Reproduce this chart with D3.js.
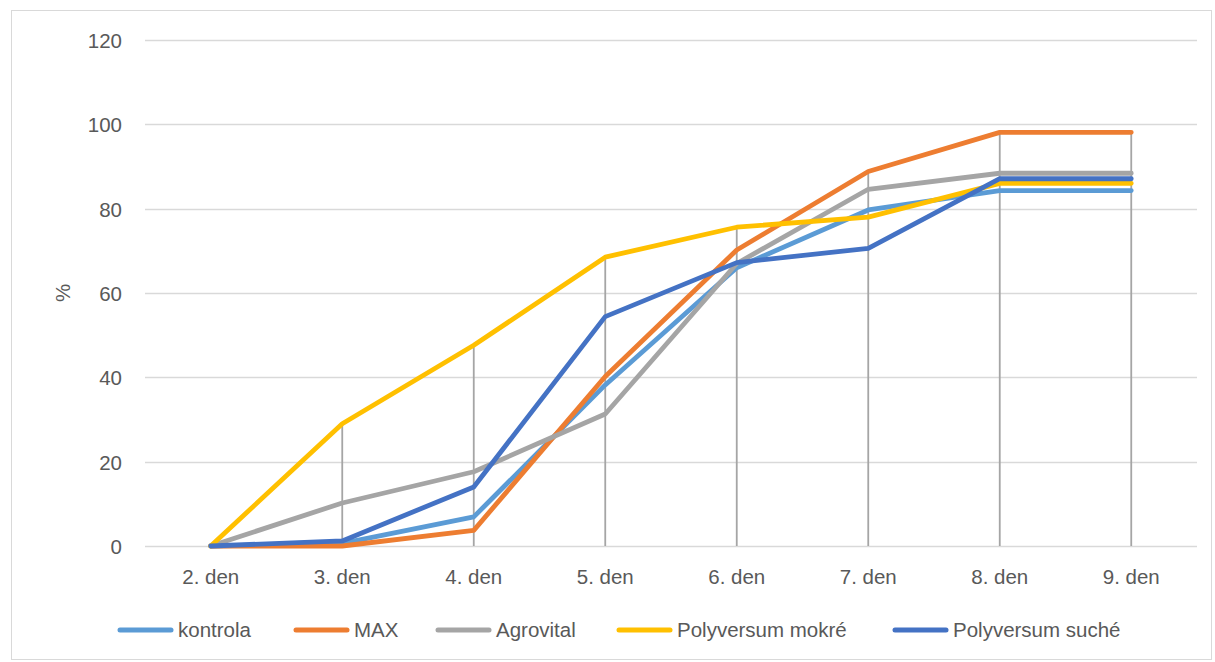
<!DOCTYPE html>
<html><head><meta charset="utf-8">
<script src="https://cdn.jsdelivr.net/npm/d3@7"></script>
<style>body{margin:0;background:#fff}svg{display:block}text{font-family:"Liberation Sans",Arial,sans-serif;fill:#595959}</style>
</head><body><svg id="c" width="1215" height="662"></svg>
<script>
const categories = ["2. den","3. den","4. den","5. den","6. den","7. den","8. den","9. den"];
const seriesNames = ["kontrola","MAX","Agrovital","Polyversum mokré","Polyversum suché"];
const seriesColors = ["#5b9bd5","#ed7d31","#a5a5a5","#ffc000","#4472c4"];
const kontrola = [0,0.6,6.9,38.2,66,79.7,84.3,84.3];
const MAX = [0,0,3.7,40.2,70.2,88.8,98.1,98.1];
const agrovital = [0,10.2,17.6,31.3,67,84.6,88.4,88.4];
const polyMokre = [0,29,47.6,68.5,75.6,78,86,86];
const polySuche = [0,1.2,14,54.4,67.2,70.6,87.1,87.1];
const yTicks = [0,20,40,60,80,100,120];
const seriesValues = [kontrola, MAX, agrovital, polyMokre, polySuche];

const FS = 20.5;
const svg = d3.select("#c");
svg.append("rect").attr("x",11.5).attr("y",10.5).attr("width",1200).attr("height",649)
  .attr("fill","#fff").attr("stroke","#d9d9d9").attr("stroke-width",1);

const x = d3.scaleBand().domain(categories).range([145,1197]);
const y = d3.scaleLinear().domain([0,120]).range([546,40]);
const cx = c => x(c) + x.bandwidth()/2;

// gridlines
svg.append("g").selectAll("line").data(yTicks).join("line")
  .attr("x1",145).attr("x2",1197).attr("y1",d=>Math.round(y(d))+0.5).attr("y2",d=>Math.round(y(d))+0.5)
  .attr("stroke","#d9d9d9").attr("stroke-width",1.3);

// y axis labels
const yAxis = d3.axisLeft(y).tickValues(yTicks).tickSize(0).tickPadding(0);
const gy = svg.append("g").attr("transform","translate(122,0)").call(yAxis);
gy.select(".domain").remove();
gy.selectAll("text").attr("font-size",FS).attr("font-family","Liberation Sans").attr("fill","#595959").attr("dy","0.36em");

// x axis labels
const xAxis = d3.axisBottom(x).tickSize(0).tickPadding(0);
const gx = svg.append("g").attr("transform","translate(0,584)").call(xAxis);
gx.select(".domain").remove();
gx.selectAll("text").attr("font-size",FS).attr("font-family","Liberation Sans").attr("fill","#595959").attr("y",0).attr("dy","0");

// y title
svg.append("text").attr("transform","translate(70,293) rotate(-90)").attr("text-anchor","middle")
  .attr("font-size",FS).text("%");

// drop lines
const maxes = categories.map((c,i)=>d3.max(seriesValues, s=>s[i]));
svg.append("g").selectAll("line").data(categories.map((c,i)=>({c,v:maxes[i]})).filter(d=>d.v>0)).join("line")
  .attr("x1",d=>cx(d.c)).attr("x2",d=>cx(d.c)).attr("y1",d=>y(d.v)).attr("y2",y(0))
  .attr("stroke","#a5a5a5").attr("stroke-width",1.8);

// lines
const line = d3.line().x((d,i)=>cx(categories[i])).y(d=>y(d));
svg.append("g").selectAll("path").data(seriesValues).join("path")
  .attr("d",d=>line(d)).attr("fill","none").attr("stroke",(d,i)=>seriesColors[i])
  .attr("stroke-width",4.8).attr("stroke-linejoin","round").attr("stroke-linecap","round");

// legend
const legX = [120,296,438,619,895];
const lg = svg.append("g").selectAll("g").data(seriesNames).join("g")
  .attr("transform",(d,i)=>`translate(${legX[i]},630)`);
lg.append("line").attr("x1",0).attr("x2",51).attr("y1",0).attr("y2",0)
  .attr("stroke",(d,i)=>seriesColors[i]).attr("stroke-width",5).attr("stroke-linecap","round");
lg.append("text").attr("x",58).attr("dy","0.36em").attr("font-size",FS).text(d=>d);
</script></body></html>
